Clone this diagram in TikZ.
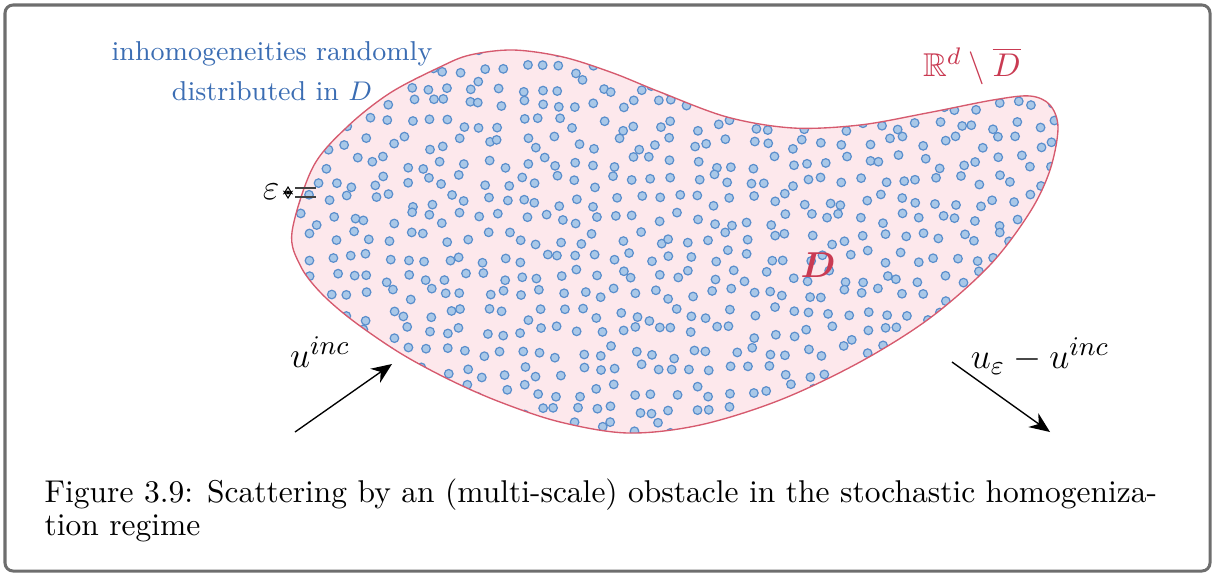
\documentclass[tikz,border=0pt]{standalone}
\usepackage{amsmath}
\usepackage{amssymb}
\usepackage{bm}
\usetikzlibrary{arrows.meta}
\definecolor{obstred}{HTML}{D65A6E}
\definecolor{labelred}{HTML}{C93A52}
\definecolor{obstfill}{HTML}{FDE8EC}
\definecolor{dotfill}{HTML}{A9C8E8}
\definecolor{dotline}{HTML}{5A8ECC}
\definecolor{labelblue}{HTML}{3B6DB3}
\definecolor{framegray}{HTML}{6E6E6E}
\tikzset{
  obstacle/.style={draw=obstred, line width=0.45pt},
  inclusion/.style={draw=dotline, fill=dotfill, line width=0.4pt},
  wave/.style={-{Stealth[length=2.4mm, width=2mm]}, line width=0.45pt},
  frame/.style={draw=framegray, line width=1pt, rounded corners=2.7pt},
  scaleline/.style={draw=black!75, line width=0.4pt},
  caption/.style={anchor=base west, align=left, inner sep=0pt,
                  font=\fontsize{10.5}{11}\selectfont}
}
% outline of the obstacle D (pixel coordinates, y downwards)
\def\obstaclepath{plot[smooth cycle, tension=0.55] coordinates {
  (292,232) (300,265) (320,292) (352,320) (400,353) (450,380) (500,402)
  (560,422) (628,433) (700,425) (780,400) (860,362) (930,318) (990,265)
  (1030,212) (1050,170) (1058,128) (1050,105) (1030,96) (993,100)
  (927,113) (860,125) (793,128) (727,117) (660,92) (613,73) (563,57)
  (513,50) (470,55) (440,67) (390,93) (347,127) (313,167)}}

\begin{document}
\begin{tikzpicture}[x=0.3333pt, y=-0.3333pt]
  \useasboundingbox (0,0) rectangle (1215,575);
  \draw[frame] (5,5) rectangle (1210,571);

  % obstacle with randomly placed inclusions
  \fill[obstfill] \obstaclepath;
  \begin{scope}
    \clip \obstaclepath;
    \pgfmathsetseed{2718}
    \foreach \i in {0,...,40}{
      \foreach \j in {0,...,21}{
        \pgfmathsetmacro\cx{294+19*\i+7*rand}
        \pgfmathsetmacro\cy{48+19*\j+7*rand}
        \path[inclusion] (\cx,\cy) circle (1.43pt);
      }
    }
  \end{scope}
  \draw[obstacle] \obstaclepath;

  % labels
  \node[text=labelblue, align=center, font=\fontsize{9.1}{13.3}\selectfont]
    (hetero) at (272,71) {inhomogeneities randomly\\distributed in $D$};
  \node[text=labelred, font=\fontsize{11}{13}\selectfont]
    (exterior) at (972,66) {$\mathbb{R}^d \setminus \overline{D}$};
  \node[text=labelred, font=\fontsize{12}{14}\selectfont]
    (obst) at (818,265) {$\bm{D}$};

  % size of one inclusion
  \coordinate (sizetop) at (288,186);
  \coordinate (sizebot) at (288,199);
  \node[font=\fontsize{12}{14}\selectfont, inner sep=1pt]
    (eps) at (271,192) {$\varepsilon$};
  \draw[scaleline] (295,188) -- (316,188);
  \draw[scaleline] (295,197) -- (316,197);
  \draw[{Stealth[length=1mm, width=1.2mm, open]}-{Stealth[length=1mm, width=1.2mm, open]},
        line width=0.35pt] (sizetop) -- (sizebot);

  % incident and scattered waves
  \coordinate (incfoot) at (295,432);
  \coordinate (inchead) at (392,364);
  \coordinate (scatfoot) at (952,362);
  \coordinate (scathead) at (1050,432);
  \draw[wave] (incfoot) -- (inchead);
  \draw[wave] (scatfoot) -- (scathead);
  \node[font=\fontsize{13}{15}\selectfont] (inclabel) at (320,352) {$u^{inc}$};
  \node[font=\fontsize{12.3}{15}\selectfont] (scatlabel) at (1040,356)
    {$u_{\varepsilon} - u^{inc}$};

  % caption
  \node[caption] (figcap) at (44,535)
    {Figure 3.9: Scattering by an (multi-scale) obstacle in the stochastic homogeniza-\\tion regime};
\end{tikzpicture}
\end{document}
